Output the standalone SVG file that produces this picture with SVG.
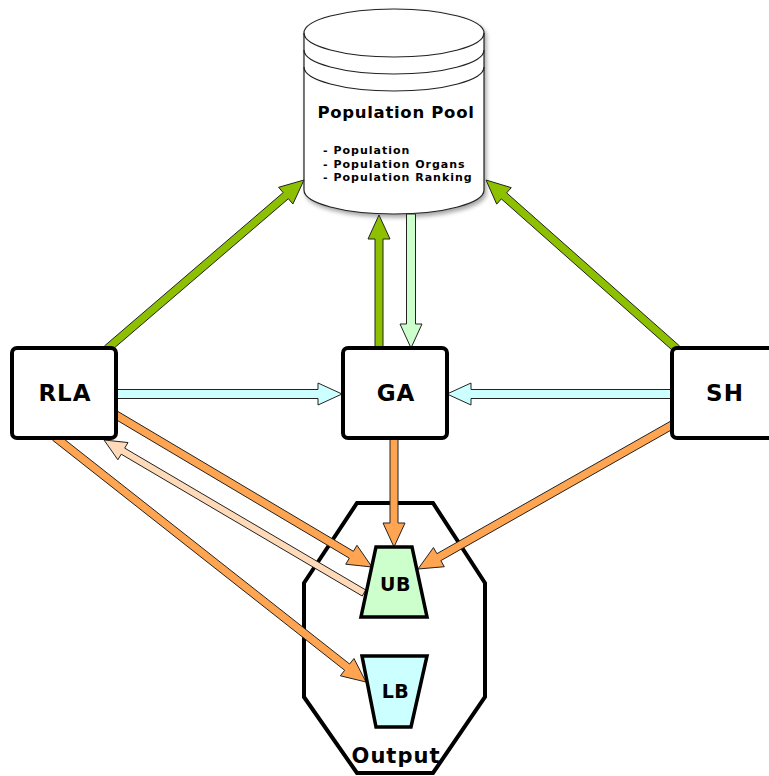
<svg xmlns="http://www.w3.org/2000/svg" width="769" height="776" viewBox="0 0 769 776">
<style>
text{font-family:"DejaVu Sans","Verdana",sans-serif;font-weight:bold;fill:#000;text-anchor:middle}
.box{fill:#fff;stroke:#000;stroke-width:4}
.arr{stroke:#222;stroke-width:1;stroke-linejoin:miter}
.green{fill:#8dc000}
.lgreen{fill:#ccffcc}
.cyan{fill:#ccffff}
.orange{fill:#ffa552}
.lorange{fill:#ffdab9}
.cyl{fill:#fff;stroke:#222;stroke-width:1.2}
.lbl{font-size:23px;letter-spacing:1px}
.li{font-size:11px;letter-spacing:1px;text-anchor:start}
</style>
<defs>
<filter id="sh" x="-10%" y="-10%" width="130%" height="130%">
<feDropShadow dx="2" dy="3" stdDeviation="2" flood-color="#000" flood-opacity="0.35"/>
</filter>
</defs>
<rect width="769" height="776" fill="#fff"/>
<g id="output">
<polygon class="box" points="357,503 433,503 485,583 485,697 433,773 357,773 304,697 304,583"/>
<text x="396" y="763" style="font-size:21px;letter-spacing:1px">Output</text>
</g>
<g id="pool">
<path class="cyl" filter="url(#sh)" d="M304,33 A90,24 0 0 1 484,33 L484,190 A90,24 0 0 1 304,190 Z"/>
<path class="cyl" style="fill:none" d="M304,33 A90,24 0 0 0 484,33 M304,50 A90,24 0 0 0 484,50 M304,67 A90,24 0 0 0 484,67"/>
<text x="396" y="118" style="font-size:16.5px;letter-spacing:0.7px">Population Pool</text>
<text class="li" x="323" y="154">- Population</text>
<text class="li" x="323" y="168">- Population Organs</text>
<text class="li" x="323" y="181">- Population Ranking</text>
</g>
<g id="connectors">
<polygon class="arr green" points="109.6,352.0 288.4,198.7 292.9,204.0 304,180 278.6,187.3 283.2,192.6 104.4,346.0"/>
<polygon class="arr green" points="679.65,346.0 506.63,192.9 511.27,187.66 486,180 496.69,204.14 501.33,198.9 674.35,352.0"/>
<polygon class="arr green" points="375,348 375,239 368,239 379,215 390,239 383,239 383,348"/>
<polygon class="arr lgreen" points="406.5,214 406.5,324 400,324 411,348 422,324 415.5,324 415.5,214"/>
<polygon class="arr cyan" points="116,389.5 318,389.5 318,383 342,394 318,405 318,398.5 116,398.5"/>
<polygon class="arr cyan" points="672,389.5 471,389.5 471,383 447,394 471,405 471,398.5 672,398.5"/>
<polygon class="arr orange" points="390,438 390,523 383,523 394,547 405,523 398,523 398,438"/>
<polygon class="arr orange" points="113.96,418.44 349.32,558.19 345.74,564.21 372,567 356.98,545.29 353.40,551.31 118.04,411.56"/>
<polygon class="arr orange" points="670.03,421.52 436.91,553.68 433.45,547.59 418,569 444.31,566.73 440.85,560.64 673.97,428.48"/>
<polygon class="arr lorange" points="365.77,589.98 124.73,448.14 128.03,442.54 104,440 117.89,459.78 121.19,454.18 362.23,596.02"/>
<polygon class="arr orange" points="52.52,440.14 344.67,670.29 340.34,675.79 366,682 353.96,658.51 349.63,664.01 57.48,433.86"/>
</g>
<g id="RLA">
<rect class="box" x="12" y="348" width="104" height="90" rx="5"/>
<text class="lbl" x="65" y="401">RLA</text>
</g>
<g id="GA">
<rect class="box" x="343" y="348" width="104" height="90" rx="5"/>
<text class="lbl" x="396" y="401">GA</text>
</g>
<g id="SH">
<rect class="box" x="672" y="348" width="104" height="90" rx="5"/>
<text class="lbl" x="725" y="401">SH</text>
</g>
<g id="UB">
<polygon points="376,547 412,547 427,617 361,617" style="fill:#ccffcc;stroke:#000;stroke-width:3.5;stroke-linejoin:miter"/>
<text x="395.5" y="591" style="font-size:19px;letter-spacing:0.5px">UB</text>
</g>
<g id="LB">
<polygon points="362,656 427,656 411,727 376,727" style="fill:#ccffff;stroke:#000;stroke-width:3.5;stroke-linejoin:miter"/>
<text x="395.5" y="698" style="font-size:19px;letter-spacing:0.5px">LB</text>
</g>
</svg>
